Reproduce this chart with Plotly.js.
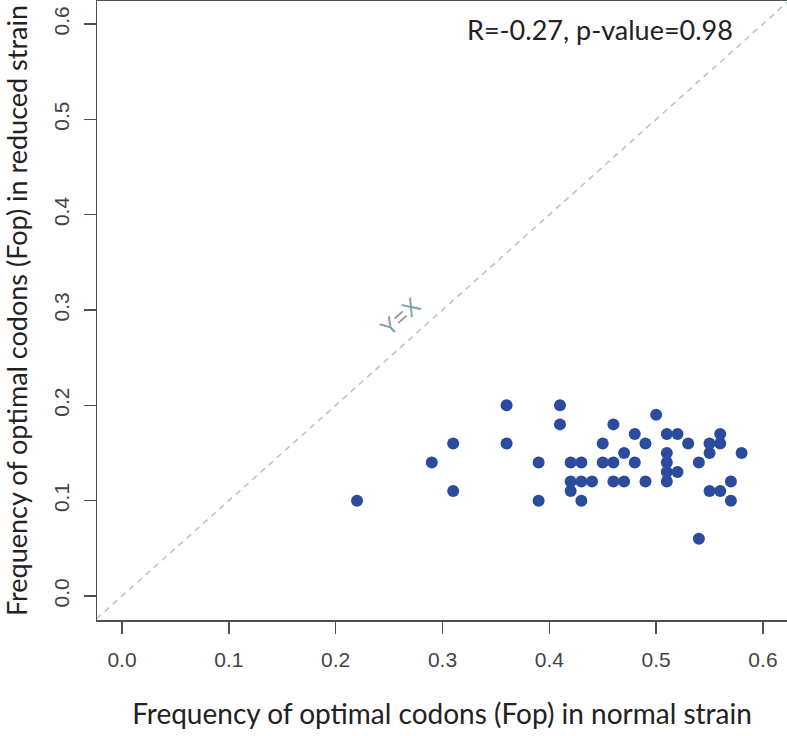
<!DOCTYPE html>
<html>
<head>
<meta charset="utf-8">
<script src="https://cdn.plot.ly/plotly-3.0.1.min.js"></script>
<style>html,body{margin:0;padding:0;background:#fff;overflow:hidden}</style>
</head>
<body>
<div id="chart" style="width:787px;height:736px"></div>
<script>
// Fop in normal strain (x) and reduced strain (y)
const fopNormal = [
  0.22, 0.29, 0.31, 0.31, 0.36, 0.36, 0.39, 0.39, 0.41, 0.41,
  0.42, 0.43, 0.42, 0.43, 0.44, 0.42, 0.43, 0.45, 0.45, 0.46,
  0.46, 0.46, 0.47, 0.47, 0.48, 0.48, 0.49, 0.49, 0.50, 0.51,
  0.52, 0.51, 0.51, 0.51, 0.51, 0.52, 0.53, 0.54, 0.54, 0.55,
  0.55, 0.56, 0.56, 0.55, 0.56, 0.57, 0.57, 0.58
];
const fopReduced = [
  0.10, 0.14, 0.16, 0.11, 0.20, 0.16, 0.14, 0.10, 0.20, 0.18,
  0.14, 0.14, 0.12, 0.12, 0.12, 0.11, 0.10, 0.16, 0.14, 0.18,
  0.14, 0.12, 0.15, 0.12, 0.17, 0.14, 0.16, 0.12, 0.19, 0.17,
  0.17, 0.15, 0.14, 0.13, 0.12, 0.13, 0.16, 0.14, 0.06, 0.16,
  0.15, 0.17, 0.16, 0.11, 0.11, 0.12, 0.10, 0.15
];
const identityLine = [-0.024, 0.624];
const tickVals = [0.0, 0.1, 0.2, 0.3, 0.4, 0.5, 0.6];
const tickText = ["0.0", "0.1", "0.2", "0.3", "0.4", "0.5", "0.6"];
const statsText = "R=-0.27, p-value=0.98";
const lineLabel = "Y=X";
const xTitle = "Frequency of optimal codons (Fop) in normal strain";
const yTitle = "Frequency of optimal codons (Fop) in reduced strain";

const axisColor = "#505050";
const tickFont = {family: "Liberation Sans, Arial, sans-serif", size: 21, color: "#444444"};
const xTitleFont = {family: "Lato, Open Sans, sans-serif", size: 28, color: "#222222"};
const yTitleFont = {family: "Lato, Open Sans, sans-serif", size: 27, color: "#222222"};

const traces = [
  {
    x: identityLine, y: identityLine, type: "scatter", mode: "lines",
    line: {color: "#b4c6cf", width: 1.6, dash: "6px,5px"},
    hoverinfo: "skip", showlegend: false
  },
  {
    x: fopNormal, y: fopReduced, type: "scatter", mode: "markers",
    marker: {color: "#2b4c9e", size: 12, line: {width: 0}},
    showlegend: false
  }
];

const layout = {
  width: 787, height: 736,
  margin: {l: 97, r: 0, t: 1, b: 116},
  paper_bgcolor: "#ffffff", plot_bgcolor: "#ffffff",
  showlegend: false,
  xaxis: {
    range: [-0.0234, 0.6225], tickvals: tickVals, ticktext: tickText,
    showgrid: false, zeroline: false,
    showline: true, mirror: true, linecolor: axisColor, linewidth: 1.5,
    ticks: "outside", ticklen: 12, tickwidth: 1.5, tickcolor: axisColor,
    ticklabelstandoff: 8,
    tickfont: tickFont,
    title: {text: xTitle, font: xTitleFont, standoff: 34}
  },
  yaxis: {
    range: [-0.0252, 0.6241], tickvals: tickVals, ticktext: tickText,
    showgrid: false, zeroline: false,
    showline: true, mirror: false, linecolor: axisColor, linewidth: 1.5,
    ticks: "outside", ticklen: 12, tickwidth: 1.5, tickcolor: axisColor,
    tickangle: -90, ticklabelstandoff: 6,
    tickfont: tickFont,
    title: {text: yTitle, font: yTitleFont, standoff: 19}
  },
  annotations: [
    {
      x: 0.4474, y: 0.5937, xref: "x", yref: "y", text: statsText,
      showarrow: false, xanchor: "center", yanchor: "middle",
      font: {family: "Lato, Open Sans, sans-serif", size: 27, color: "#222222"}
    },
    {
      x: 0.26, y: 0.293, xref: "x", yref: "y", text: lineLabel,
      showarrow: false, xanchor: "center", yanchor: "middle", textangle: -41.7,
      font: {family: "Liberation Sans, Arial, sans-serif", size: 23, color: "#7f9fae"}
    }
  ]
};

Plotly.newPlot("chart", traces, layout, {staticPlot: true, displayModeBar: false});
</script>
</body>
</html>
